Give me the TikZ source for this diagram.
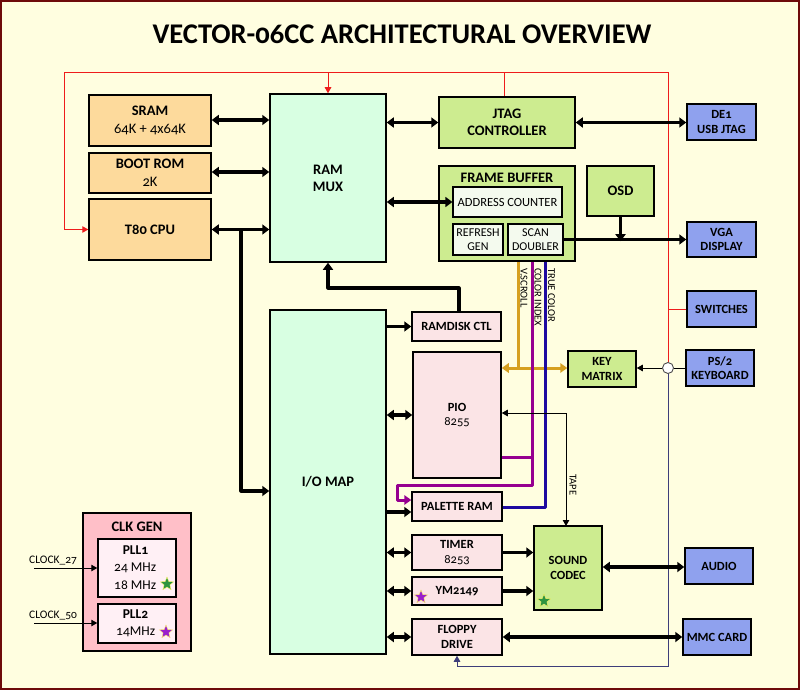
\documentclass[tikz,border=0pt]{standalone}
\usepackage{fontspec}
\setmainfont{Carlito}[Numbers=OldStyle]
\usetikzlibrary{arrows.meta,shapes.geometric}
\definecolor{bgc}{HTML}{FFFEE0}
\definecolor{borderc}{HTML}{6E0A0A}
\definecolor{corange}{HTML}{FDDA9C}
\definecolor{cmint}{HTML}{D8FFE2}
\definecolor{cgreen}{HTML}{CDEC90}
\definecolor{cblue}{HTML}{8FA1EE}
\definecolor{cpink}{HTML}{FBE4E6}
\definecolor{csub}{HTML}{F4FAEE}
\definecolor{cclk}{HTML}{FFBFC8}
\definecolor{cpll}{HTML}{FFF0F5}
\definecolor{lorange}{HTML}{D6A020}
\definecolor{lpurple}{HTML}{960090}
\definecolor{lblue}{HTML}{1E0AA0}
\definecolor{lred}{HTML}{EE1C1C}
\definecolor{lgray}{HTML}{3E3E7A}
\definecolor{sgreen}{HTML}{2E9440}
\definecolor{spurple}{HTML}{9A1FCC}
\begin{document}
\begin{tikzpicture}[x=1pt,y=-1pt,
  box/.style={draw=black, line width=1.5pt, align=center, inner sep=1pt},
  sz/.style 2 args={minimum width=#1pt, minimum height=#2pt},
  bf14/.style={font=\fontsize{14.5}{17}\selectfont\bfseries},
  bf12/.style={font=\fontsize{12.5}{14.5}\selectfont\bfseries},
  rg12/.style={font=\fontsize{12.5}{14}\selectfont},
  rg11/.style={font=\fontsize{12}{14}\selectfont},
  bus/.style={line width=3.2pt, line join=round, >={Triangle[length=7pt,width=10pt]}},
  thinl/.style={line width=1pt, >={Triangle[length=6pt,width=6.5pt]}},
  sigl/.style={line width=3pt, line join=round, >={Triangle[length=7pt,width=9.5pt]}},
  vlbl/.style={font=\fontsize{10.5}{11}\selectfont, rotate=-90, anchor=west, inner sep=0pt},
  starn/.style={star, star points=5, star point ratio=2.3, minimum size=14pt, inner sep=0pt, draw=yellow!60!white, line width=0.4pt},
  clbl/.style={font=\fontsize{11.5}{12}\selectfont, anchor=south west, inner sep=0pt}
]
\useasboundingbox (0,0) rectangle (800,690);
\path[fill=bgc, draw=borderc, line width=2pt] (1,1) rectangle (799,689);

% title
\node[font=\fontsize{28.5}{31}\selectfont\bfseries] (title) at (402,34) {VECTOR-06CC ARCHITECTURAL OVERVIEW};

% left column
\node[box, fill=corange, sz={122}{51}, font=\fontsize{14.5}{18}\selectfont] (sram) at (150,120.5) {\textbf{SRAM}\\64K + 4x64K};
\node[box, fill=corange, sz={122}{40}, font=\fontsize{14.5}{18}\selectfont] (boot) at (150,173) {\textbf{BOOT ROM}\\2K};
\node[box, fill=corange, sz={122}{61}, bf14] (cpu) at (150,229.5) {T80 CPU};

% mux and io map
\node[box, fill=cmint, sz={116}{168}, bf14] (rammux) at (328,178) {RAM\\MUX};
\node[box, fill=cmint, sz={116}{344}, bf14] (iomap) at (328,482) {I/O MAP};

% top middle
\node[box, fill=cgreen, sz={136}{51}, bf14] (jtag) at (507,122.5) {JTAG\\CONTROLLER};
\node[box, fill=cgreen, sz={136}{95}] (fb) at (507,213.5) {};
\node[bf14] (fbt) at (507,177.5) {FRAME BUFFER};
\node[box, fill=csub, sz={109}{30}, rg12, line width=1.2pt] (addr) at (507.5,202) {ADDRESS COUNTER};
\node[box, fill=csub, sz={50}{31}, rg11, line width=1.2pt] (refresh) at (478,239.5) {REFRESH\\GEN};
\node[box, fill=csub, sz={55}{31}, rg11, line width=1.2pt] (scan) at (535.5,239.5) {SCAN\\DOUBLER};
\node[box, fill=cgreen, sz={67}{50}, bf14] (osd) at (620.5,191) {OSD};

% right column
\node[box, fill=cblue, sz={69}{36}, bf12] (de1) at (721.5,122) {DE1\\USB JTAG};
\node[box, fill=cblue, sz={69}{35}, bf12] (vga) at (721.5,239.5) {VGA\\DISPLAY};
\node[box, fill=cblue, sz={69}{36}, bf12] (switches) at (721.5,309) {SWITCHES};
\node[box, fill=cblue, sz={68}{36}, bf12] (ps2) at (720,368) {PS/2\\KEYBOARD};
\node[box, fill=cblue, sz={68}{36}, bf12] (audio) at (719,566) {AUDIO};
\node[box, fill=cblue, sz={68}{36}, bf12] (mmc) at (717,637) {MMC CARD};

% peripherals
\node[box, fill=cgreen, sz={68}{36}, bf12] (key) at (602,369) {KEY\\MATRIX};
\node[box, fill=cpink, sz={89}{29}, bf12] (ramdisk) at (456.5,326.5) {RAMDISK CTL};
\node[box, fill=cpink, sz={88}{126}, bf12] (pio) at (457,415) {PIO\\\mdseries 8255};
\node[box, fill=cpink, sz={90}{29}, bf12] (palette) at (457,506.5) {PALETTE RAM};
\node[box, fill=cpink, sz={90}{35}, bf12] (timer) at (457,552.5) {TIMER\\\mdseries 8253};
\node[box, fill=cpink, sz={90}{28}, bf12] (ym) at (457,591) {YM2149};
\node[box, fill=cpink, sz={90}{36}, bf12] (floppy) at (457,637) {FLOPPY\\DRIVE};
\node[box, fill=cgreen, sz={68}{84}, bf12] (codec) at (568,568) {SOUND\\CODEC};

% clock generator
\node[box, fill=cclk, sz={108}{138}] (clkgen) at (137,582) {};
\node[bf14] (clkt) at (137,527) {CLK GEN};
\node[box, fill=cpll, sz={78}{58}] (pll1) at (137,568) {};
\node[box, fill=cpll, sz={78}{39}] (pll2) at (137,623.5) {};
\node[font=\fontsize{13.5}{15}\selectfont\bfseries] (pll1t) at (135.5,550) {PLL1};
\node[font=\fontsize{13.5}{15}\selectfont, anchor=west, inner sep=0pt] (f24) at (114,567.5) {24 MHz};
\node[font=\fontsize{13.5}{15}\selectfont, anchor=west, inner sep=0pt] (f18) at (114,585) {18 MHz};
\node[font=\fontsize{13.5}{15}\selectfont\bfseries] (pll2t) at (135.5,614) {PLL2};
\node[font=\fontsize{13.5}{15}\selectfont, anchor=west, inner sep=0pt] (f14) at (116,632) {14MHz};
\node[starn, fill=sgreen] (star1) at (167,584) {};
\node[starn, fill=spurple] (star2) at (166,632) {};
\node[starn, fill=spurple] (star3) at (421,597) {};
\node[starn, fill=sgreen] (star4) at (544,601) {};

% helper coordinates
\coordinate (rtl) at (64,73);
\coordinate (rtr) at (668,73);
\node[circle, draw=black!70, fill=white, line width=0.9pt, minimum size=11pt, inner sep=0pt] (circ) at (668,368) {};
\coordinate (cpuj) at (241,229.5);
\coordinate (iobus) at (241,491);
\coordinate (rdturn) at (459,288);
\coordinate (vsx) at (518,368);
\coordinate (ci1) at (532,485);
\coordinate (ci2) at (397,485);
\coordinate (ci3) at (397,500);
\coordinate (ciq) at (532,457);
\coordinate (tc1) at (545,507);
\coordinate (bl1) at (668,666);
\coordinate (c27) at (34,568);
\coordinate (c50) at (34,623);
\coordinate (pal2) at (386,512);
\coordinate (tp1) at (566,413);
\coordinate (tp2) at (566,526);
\coordinate (jt) at (504,73);

% red control lines
\draw[thinl, lred, ->] (circ.north) -- (rtr) -- (rtl) |- (cpu.west);
\draw[thinl, lred, ->] (rammux.north |- rtl) -- (rammux.north);
\draw[thinl, lred] (jt) -- (jt |- jtag.north);
\draw[thinl, lred] (switches.west) -- (switches.west -| circ);

% keyboard / blue-gray line
\draw[thinl, black] (ps2.west) -- (circ.east);
\draw[thinl, black, ->] (circ.west) -- (circ.west -| key.east);
\draw[thinl, lgray, ->] (circ.south) -- (bl1) -| (floppy.south);

% buses
\draw[bus, <->] (sram.east |- 0,120) -- (rammux.west |- 0,120);
\draw[bus, <->] (boot.east |- 0,172) -- (rammux.west |- 0,172);
\draw[bus, <->] (cpu.east) -- (cpu.east -| rammux.west);
\draw[bus, ->] (cpuj) -- (iobus) -- (iobus -| iomap.west);
\draw[bus, <->] (rammux.east |- jtag.west) -- (jtag.west);
\draw[bus, <->] (jtag.east) -- (jtag.east -| de1.west);
\draw[bus, <->] (rammux.east |- addr.west) -- (addr.west);
\draw[bus, ->] (scan.east) -- (scan.east -| vga.west);
\draw[bus, ->] (osd.south) -- ([yshift=-1.7pt]osd.south |- scan.east);
\draw[bus, ->] (iomap.east |- ramdisk.west) -- (ramdisk.west);
\draw[bus, ->] (ramdisk.north -| rdturn) -- (rdturn) -| (rammux.south);
\draw[bus, <->] (iomap.east |- pio.west) -- (pio.west);
\draw[bus, ->] (pal2) -- (pal2 -| palette.west);
\draw[bus, <->] (iomap.east |- timer.west) -- (timer.west);
\draw[bus, <->] (iomap.east |- ym.west) -- (ym.west);
\draw[bus, <->] (iomap.east |- floppy.west) -- (floppy.west);
\draw[bus, ->] (timer.east) -- (timer.east -| codec.west);
\draw[bus, ->] (ym.east) -- (ym.east -| codec.west);
\draw[bus, <->] (codec.east |- 0,567) -- (audio.west |- 0,567);
\draw[bus, <->] (floppy.east) -- (floppy.east -| mmc.west);

% video signals
\draw[sigl, lorange] (fb.south -| vsx) -- (vsx);
\draw[sigl, lorange, ->] (vsx) -- (vsx -| pio.east);
\draw[sigl, lorange, ->] (vsx) -- (vsx -| key.west);
\draw[sigl, lpurple, ->] (fb.south -| ci1) -- (ci1) -- (ci2) -- (ci3) -- (ci3 -| palette.west);
\draw[sigl, lpurple] (pio.east |- ciq) -- (ciq);
\draw[sigl, lblue] (fb.south -| tc1) -- (tc1) -- (tc1 -| palette.east);
\node[vlbl] (lvs) at (524,268) {V.SCROLL};
\node[vlbl] (lci) at (538,268) {COLOR INDEX};
\node[vlbl] (ltc) at (551.5,268) {TRUE COLOR};

% tape
\draw[thinl, black, <->] (tp1 -| pio.east) -- (tp1) -- (tp2);
\node[vlbl] (ltape) at (573,474) {TAPE};

% clocks
\draw[thinl, black, ->] (c27) -- (c27 -| pll1.west);
\draw[thinl, black, ->] (c50) -- (c50 -| pll2.west);
\node[clbl] (l27) at (29,565) {CLOCK\_27};
\node[clbl] (l50) at (29,620) {CLOCK\_50};
\end{tikzpicture}
\end{document}
